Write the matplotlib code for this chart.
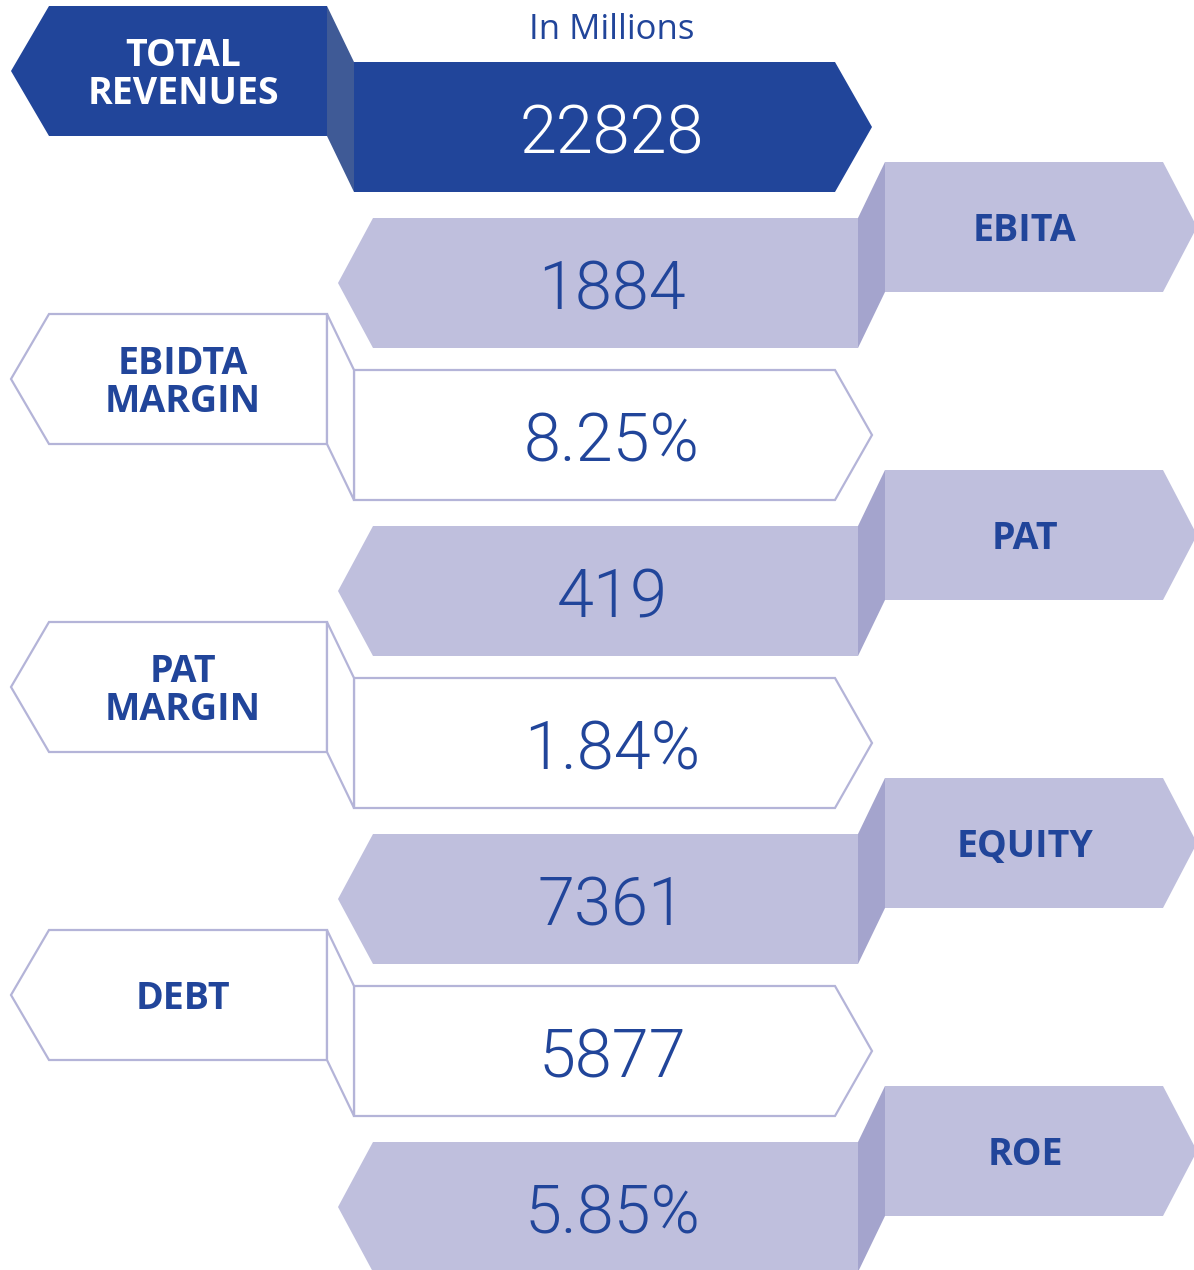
import matplotlib
matplotlib.use("Agg")
import matplotlib.pyplot as plt
from matplotlib.patches import Polygon

# ---- data ----
labels = ["TOTAL\nREVENUES", "EBITA", "EBIDTA\nMARGIN", "PAT", "PAT\nMARGIN", "EQUITY", "DEBT", "ROE"]
values = ["22828", "1884", "8.25%", "419", "1.84%", "7361", "5877", "5.85%"]
styles = ["dark", "purple", "outline", "purple", "outline", "purple", "outline", "purple"]
unit_note = "In Millions"

# ---- style ----
DARK = "#21459A"
DARK_FOLD = "#3F5A96"
PURPLE = "#BFBFDD"
PURPLE_FOLD = "#A4A4CD"
OUTLINE = "#B4B4D8"
TEXT = "#21459A"

W, H = 1194, 1270
fig = plt.figure(figsize=(W / 100, H / 100), dpi=100)
ax = fig.add_axes([0, 0, 1, 1])
ax.set_xlim(0, W)
ax.set_ylim(H, 0)
ax.axis("off")

BH = 130      # block height
OFF = 56      # vertical offset between label block and value block
num_font = dict(family=["Roboto", "DejaVu Sans"], weight=300, size=48, color=TEXT)
lab_font = dict(family=["Open Sans", "DejaVu Sans"], weight="bold", size=27, color=TEXT)

def value_top(i):
    return 62 + 156 * ((i + 1) // 2) + 152 * (i // 2)

for i, (lab, val, st) in enumerate(zip(labels, values, styles)):
    vt = value_top(i)
    vb = vt + BH
    vm = (vt + vb) / 2
    lt = vt - OFF
    lb = lt + BH
    lm = (lt + lb) / 2
    if st in ("dark", "outline"):
        lab_poly = [(49, lt), (327, lt), (327, lb), (49, lb), (11, lm)]
        fold_poly = [(327, lt), (354, vt), (354, vb), (327, lb)]
        val_poly = [(354, vt), (835, vt), (872, vm), (835, vb), (354, vb)]
        lab_x = 183
        if st == "dark":
            kw_main = dict(facecolor=DARK, edgecolor="none")
            kw_fold = dict(facecolor=DARK_FOLD, edgecolor="none")
            lab_col = "white"
            val_col = "white"
        else:
            kw_main = dict(facecolor="white", edgecolor=OUTLINE, linewidth=1.6)
            kw_fold = dict(facecolor="white", edgecolor=OUTLINE, linewidth=1.6)
            lab_col = TEXT
            val_col = TEXT
    else:
        val_poly = [(373, vt), (858, vt), (858, vb), (373, vb), (338, vm)]
        fold_poly = [(858, vt), (885, lt), (885, lb), (858, vb)]
        lab_poly = [(885, lt), (1163, lt), (1197, lm), (1163, lb), (885, lb)]
        lab_x = 1025
        kw_main = dict(facecolor=PURPLE, edgecolor="none")
        kw_fold = dict(facecolor=PURPLE_FOLD, edgecolor="none")
        lab_col = TEXT
        val_col = TEXT
    ax.add_patch(Polygon(lab_poly, closed=True, joinstyle="miter", **kw_main))
    ax.add_patch(Polygon(val_poly, closed=True, joinstyle="miter", **kw_main))
    ax.add_patch(Polygon(fold_poly, closed=True, joinstyle="miter", **kw_fold))
    lf = dict(lab_font); lf["color"] = lab_col
    nf = dict(num_font); nf["color"] = val_col
    ax.text(lab_x, lm + 4, lab, ha="center", va="center", linespacing=1.02, **lf)
    ax.text(612, vm + 8, val, ha="center", va="center", **nf)

ax.text(612, 30, unit_note, ha="center", va="center",
        family=["Open Sans", "DejaVu Sans"], size=25, color=TEXT)

fig.savefig("out.png", dpi=100)
